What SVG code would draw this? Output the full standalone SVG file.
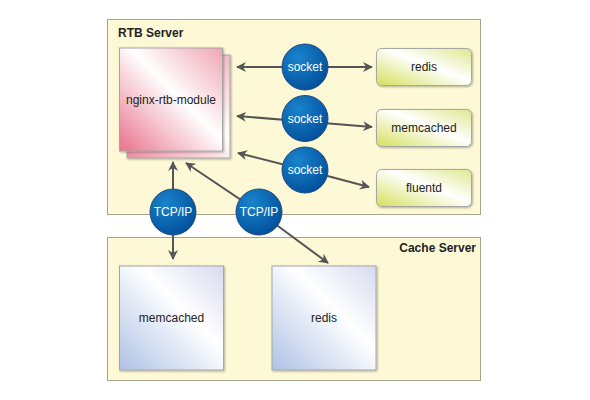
<svg xmlns="http://www.w3.org/2000/svg" width="590" height="400" viewBox="0 0 590 400">
<defs>
  <linearGradient id="gPink" x1="0" y1="1" x2="1" y2="0">
    <stop offset="0" stop-color="#e8728c"/>
    <stop offset="0.55" stop-color="#ffffff"/>
    <stop offset="1" stop-color="#f0a4b2"/>
  </linearGradient>
  <linearGradient id="gPinkBack" x1="0" y1="1" x2="1" y2="0">
    <stop offset="0" stop-color="#ee8ea2"/>
    <stop offset="0.6" stop-color="#ffffff"/>
    <stop offset="1" stop-color="#f4b8c4"/>
  </linearGradient>
  <linearGradient id="gBlue" x1="0" y1="1" x2="1" y2="0">
    <stop offset="0" stop-color="#aec2e6"/>
    <stop offset="0.6" stop-color="#ffffff"/>
    <stop offset="1" stop-color="#d6daf0"/>
  </linearGradient>
  <linearGradient id="gGreen" x1="0" y1="1" x2="1" y2="0">
    <stop offset="0" stop-color="#d4e05a"/>
    <stop offset="0.55" stop-color="#ffffff"/>
    <stop offset="1" stop-color="#dfe78e"/>
  </linearGradient>
  <radialGradient id="gCircle" cx="0.35" cy="0.3" r="0.8">
    <stop offset="0" stop-color="#1a84cc"/>
    <stop offset="1" stop-color="#004c98"/>
  </radialGradient>
  <marker id="arr" viewBox="0 0 10 10" refX="9" refY="5" markerWidth="5" markerHeight="5" orient="auto-start-reverse" markerUnits="strokeWidth">
    <path d="M0,0 L10,5 L0,10 L3,5 z" fill="#555555"/>
  </marker>
  <filter id="sh" x="-10%" y="-10%" width="130%" height="130%">
    <feDropShadow dx="1" dy="1" stdDeviation="0.8" flood-color="#000" flood-opacity="0.3"/>
  </filter>
</defs>
<style>
  .grp { fill: #fdf9d6; stroke: #aaa38c; stroke-width: 1; }
  .grplbl { font-family: "Liberation Sans", Arial, sans-serif; font-size: 12px; font-weight: bold; fill: #222; }
  .lbl { font-family: "Liberation Sans", Arial, sans-serif; font-size: 12px; fill: #222; text-anchor: middle; }
  .clbl { font-family: "Liberation Sans", Arial, sans-serif; font-size: 12px; fill: #ffffff; text-anchor: middle; }
  .circ { fill: url(#gCircle); stroke: #1d4a80; stroke-width: 1; }
  .box { stroke: #a6a6a6; stroke-width: 1; }
  .edge { stroke: #555555; stroke-width: 2; fill: none; }
</style>
<rect width="590" height="400" fill="#ffffff"/>

<g id="rtb-server">
  <rect class="grp" x="107.5" y="19.5" width="373" height="195"/>
  <text class="grplbl" x="118" y="37">RTB Server</text>
</g>
<g id="cache-server">
  <rect class="grp" x="107.5" y="237.5" width="373" height="143"/>
  <text class="grplbl" x="476" y="252" text-anchor="end">Cache Server</text>
</g>

<g id="connectors">
  <line class="edge" x1="305" y1="67" x2="237" y2="67" marker-end="url(#arr)"/>
  <line class="edge" x1="305" y1="67" x2="372" y2="67" marker-end="url(#arr)"/>
  <line class="edge" x1="305" y1="121.5" x2="237" y2="116" marker-end="url(#arr)"/>
  <line class="edge" x1="305" y1="121.5" x2="372" y2="127" marker-end="url(#arr)"/>
  <line class="edge" x1="305" y1="170" x2="238" y2="153" marker-end="url(#arr)"/>
  <line class="edge" x1="305" y1="170" x2="369" y2="187" marker-end="url(#arr)"/>
  <line class="edge" x1="173" y1="212" x2="173" y2="162" marker-end="url(#arr)"/>
  <line class="edge" x1="173" y1="212" x2="173" y2="259" marker-end="url(#arr)"/>
  <line class="edge" x1="259" y1="212" x2="186" y2="163" marker-end="url(#arr)"/>
  <line class="edge" x1="259" y1="212" x2="328" y2="263" marker-end="url(#arr)"/>
</g>

<g id="nginx-rtb-module">
  <rect class="box" x="127" y="55" width="103" height="103" fill="url(#gPinkBack)" filter="url(#sh)"/>
  <rect class="box" x="119.5" y="48" width="103" height="103" fill="url(#gPink)" filter="url(#sh)"/>
  <text class="lbl" x="171" y="104">nginx-rtb-module</text>
</g>

<g id="socket1">
  <circle class="circ" cx="305" cy="67" r="23"/>
  <text class="clbl" x="305" y="71">socket</text>
</g>
<g id="socket2">
  <circle class="circ" cx="305" cy="118.5" r="23"/>
  <text class="clbl" x="305" y="122.5">socket</text>
</g>
<g id="socket3">
  <circle class="circ" cx="305" cy="170" r="23"/>
  <text class="clbl" x="305" y="174">socket</text>
</g>

<g id="redis-rtb">
  <rect class="box" x="376.5" y="48.5" width="95" height="37" rx="5" fill="url(#gGreen)" filter="url(#sh)"/>
  <text class="lbl" x="424" y="71">redis</text>
</g>
<g id="memcached-rtb">
  <rect class="box" x="376.5" y="109.5" width="95" height="37" rx="5" fill="url(#gGreen)" filter="url(#sh)"/>
  <text class="lbl" x="424" y="132">memcached</text>
</g>
<g id="fluentd">
  <rect class="box" x="376.5" y="169.5" width="95" height="37" rx="5" fill="url(#gGreen)" filter="url(#sh)"/>
  <text class="lbl" x="424" y="192">fluentd</text>
</g>

<g id="tcpip1">
  <circle class="circ" cx="173" cy="212" r="23"/>
  <text class="clbl" x="173" y="216">TCP/IP</text>
</g>
<g id="tcpip2">
  <circle class="circ" cx="259" cy="212" r="23"/>
  <text class="clbl" x="259" y="216">TCP/IP</text>
</g>

<g id="memcached-cache">
  <rect class="box" x="119.5" y="266" width="104" height="104" fill="url(#gBlue)" filter="url(#sh)"/>
  <text class="lbl" x="171.5" y="322">memcached</text>
</g>
<g id="redis-cache">
  <rect class="box" x="272" y="266" width="104" height="104" fill="url(#gBlue)" filter="url(#sh)"/>
  <text class="lbl" x="324" y="322">redis</text>
</g>
</svg>
